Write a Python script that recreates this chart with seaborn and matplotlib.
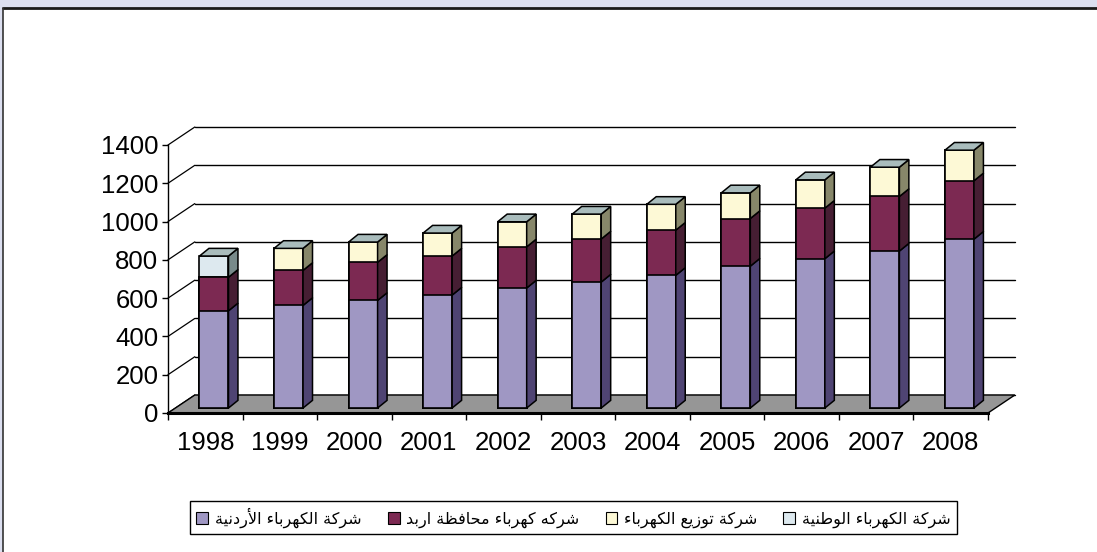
import numpy as np
import matplotlib
matplotlib.use('Agg')
import matplotlib.pyplot as plt
from matplotlib.patches import Polygon, Rectangle, Patch
from matplotlib.lines import Line2D
import seaborn as sns

years = ['1998', '1999', '2000', '2001', '2002', '2003', '2004', '2005', '2006', '2007', '2008']
jepco = [508, 536, 562, 590, 627, 658, 693, 741, 780, 820, 882]
irbid = [175, 183, 199, 204, 215, 225, 236, 249, 264, 285, 305]
edco = [0, 115, 106, 120, 131, 130, 135, 134, 148, 153, 160]
nepco = [111, 0, 0, 0, 0, 0, 0, 0, 0, 0, 0]
series_names = ['شركة الكهرباء الأردنية', 'شركه كهرباء محافظة اربد',
                'شركة توزيع الكهرباء', 'شركة الكهرباء الوطنية']
yticks = [0, 200, 400, 600, 800, 1000, 1200, 1400]

front_colors = ['#9f97c3', '#7c2952', '#fdf9d6', '#dde9ef']
side_colors = ['#4f4473', '#461e33', '#87876a', '#788a8a']
top_color = '#a9bcbc'

# arabic presentation forms: isolated, final, initial, medial
FORMS = {
    'ء': ('\ufe80',),
    'أ': ('\ufe83', '\ufe84'),
    'ا': ('\ufe8d', '\ufe8e'),
    'ب': ('\ufe8f', '\ufe90', '\ufe91', '\ufe92'),
    'ة': ('\ufe93', '\ufe94'),
    'ت': ('\ufe95', '\ufe96', '\ufe97', '\ufe98'),
    'ح': ('\ufea1', '\ufea2', '\ufea3', '\ufea4'),
    'د': ('\ufea9', '\ufeaa'),
    'ر': ('\ufead', '\ufeae'),
    'ز': ('\ufeaf', '\ufeb0'),
    'ش': ('\ufeb5', '\ufeb6', '\ufeb7', '\ufeb8'),
    'ط': ('\ufec1', '\ufec2', '\ufec3', '\ufec4'),
    'ظ': ('\ufec5', '\ufec6', '\ufec7', '\ufec8'),
    'ع': ('\ufec9', '\ufeca', '\ufecb', '\ufecc'),
    'ف': ('\ufed1', '\ufed2', '\ufed3', '\ufed4'),
    'ك': ('\ufed9', '\ufeda', '\ufedb', '\ufedc'),
    'ل': ('\ufedd', '\ufede', '\ufedf', '\ufee0'),
    'م': ('\ufee1', '\ufee2', '\ufee3', '\ufee4'),
    'ن': ('\ufee5', '\ufee6', '\ufee7', '\ufee8'),
    'ه': ('\ufee9', '\ufeea', '\ufeeb', '\ufeec'),
    'و': ('\ufeed', '\ufeee'),
    'ي': ('\ufef1', '\ufef2', '\ufef3', '\ufef4'),
}
LAM_ALEF = {'ا': ('\ufefb', '\ufefc'), 'أ': ('\ufef7', '\ufef8')}


def shape(text):
    words = []
    for word in text.split(' '):
        res = []
        i = 0
        while i < len(word):
            c = word[i]
            prev = word[i - 1] if i > 0 else None
            joins_prev = prev is not None and len(FORMS[prev]) == 4 and len(FORMS[c]) > 1
            if c == 'ل' and i + 1 < len(word) and word[i + 1] in LAM_ALEF:
                iso, fin = LAM_ALEF[word[i + 1]]
                res.append(fin if joins_prev else iso)
                i += 2
                continue
            nxt = word[i + 1] if i + 1 < len(word) else None
            joins_next = len(FORMS[c]) == 4 and nxt is not None and len(FORMS[nxt]) > 1
            f = FORMS[c]
            if joins_prev and joins_next:
                res.append(f[3])
            elif joins_prev:
                res.append(f[1])
            elif joins_next:
                res.append(f[2])
            else:
                res.append(f[0])
            i += 1
        words.append(''.join(res))
    return ' '.join(words)[::-1]


sns.set_style('white')
plt.rcParams['font.family'] = ['Liberation Sans', 'DejaVu Sans']
plt.rcParams['text.color'] = 'black'
plt.rcParams['xtick.color'] = 'black'
plt.rcParams['ytick.color'] = 'black'

W, H = 1097, 552
fig = plt.figure(figsize=(W / 100, H / 100), dpi=100, facecolor='#dcdff0')
# white chart area, framed only on top and left
fig.add_artist(Rectangle((3 / W, 0), 1.0, (H - 8) / H, transform=fig.transFigure,
                         facecolor='white', edgecolor='none', zorder=-1))
fig.add_artist(Line2D([3 / W, 1], [(H - 8) / H] * 2, transform=fig.transFigure,
                      color='#1a1a1a', lw=2, zorder=-0.5))
fig.add_artist(Line2D([3 / W] * 2, [0, (H - 8) / H], transform=fig.transFigure,
                      color='#333333', lw=1.2, zorder=-0.5))
ax = fig.add_axes([168 / W, (H - 413) / H, 820 / W, 268 / H])
ax.set_facecolor('none')

# pseudo 3d geometry (data units)
WALL_DX, WALL_DY = 0.36, 94
BAR_X, BAR_Y = 0.117, 26
BAR_W = 0.389
DDX, DDY = 0.127, 40
n = len(years)

# back wall gridlines and the diagonals from the axis
for v in yticks:
    ax.plot([-0.5 + WALL_DX, n - 0.5 + WALL_DX], [v + WALL_DY] * 2, color='black', lw=1,
            clip_on=False, zorder=0.5)
    ax.plot([-0.5, -0.5 + WALL_DX], [v, v + WALL_DY], color='black', lw=0.9,
            clip_on=False, zorder=0.5)

# floor
ax.add_patch(Polygon([(-0.5, 0), (n - 0.5, 0), (n - 0.5 + WALL_DX, WALL_DY), (-0.5 + WALL_DX, WALL_DY)],
                     closed=True, fc='#969696', ec='black', lw=1, clip_on=False, zorder=1))

values = np.array([jepco, irbid, edco, nepco])
cum = np.cumsum(values, axis=0)

# front faces, stacked by overdrawing cumulative totals
for k in range(3, -1, -1):
    n0 = len(ax.patches)
    sns.barplot(x=years, y=cum[k], color=front_colors[k], saturation=1, width=BAR_W,
                edgecolor='black', linewidth=1.2, ax=ax, zorder=3)
    for p in ax.patches[n0:]:
        p.set_x(p.get_x() + BAR_X)
        p.set_y(p.get_y() + BAR_Y)
        p.set_clip_on(False)

# side and top faces
for i in range(n):
    xl = i + BAR_X - BAR_W / 2
    xr = i + BAR_X + BAR_W / 2
    for k in range(4):
        if values[k][i] <= 0:
            continue
        b = cum[k][i] - values[k][i] + BAR_Y
        t = cum[k][i] + BAR_Y
        ax.add_patch(Polygon([(xr, b), (xr + DDX, b + DDY), (xr + DDX, t + DDY), (xr, t)], closed=True,
                             fc=side_colors[k], ec='black', lw=1.1, clip_on=False, zorder=3))
    T = cum[-1][i] + BAR_Y
    ax.add_patch(Polygon([(xl, T), (xr, T), (xr + DDX, T + DDY), (xl + DDX, T + DDY)], closed=True,
                         fc=top_color, ec='black', lw=1.1, clip_on=False, zorder=3))

ax.set_xlim(-0.5, n - 0.5)
ax.set_ylim(0, 1400)
ax.set_xlabel('')
ax.set_ylabel('')
ax.set_yticks(yticks)
ax.set_xticks(range(n))
ax.set_xticklabels(years)
ax.set_xticks(np.arange(-0.5, n), minor=True)
ax.tick_params(axis='y', left=True, length=4, width=1, color='black', labelcolor='black',
               labelsize=18.5, pad=3)
ax.tick_params(axis='x', which='major', bottom=True, length=0, labelcolor='black',
               labelsize=18.5, pad=13)
ax.tick_params(axis='x', which='minor', bottom=True, length=5, width=1, color='black')
for s in ['top', 'right']:
    ax.spines[s].set_visible(False)
ax.spines['left'].set_color('black')
ax.spines['left'].set_linewidth(1)
ax.spines['bottom'].set_color('black')
ax.spines['bottom'].set_linewidth(2.2)
ax.spines['bottom'].set_zorder(4)

handles = [Patch(fc=front_colors[k], ec='black', lw=0.8) for k in range(4)]
labels = [shape(s) for s in series_names]
leg = fig.legend(handles, labels, ncol=4, loc='center',
                 bbox_to_anchor=(190 / W, 22 / H, 767 / W, 25 / H), mode='expand',
                 frameon=True, fancybox=False, edgecolor='black', framealpha=1,
                 handlelength=0.75, handleheight=0.75, handletextpad=0.4, borderaxespad=0,
                 prop={'family': 'DejaVu Sans', 'size': 11.5})
leg.get_frame().set_linewidth(1)
for t in leg.get_texts():
    t.set_color('black')

fig.savefig('out.png', dpi=100)
